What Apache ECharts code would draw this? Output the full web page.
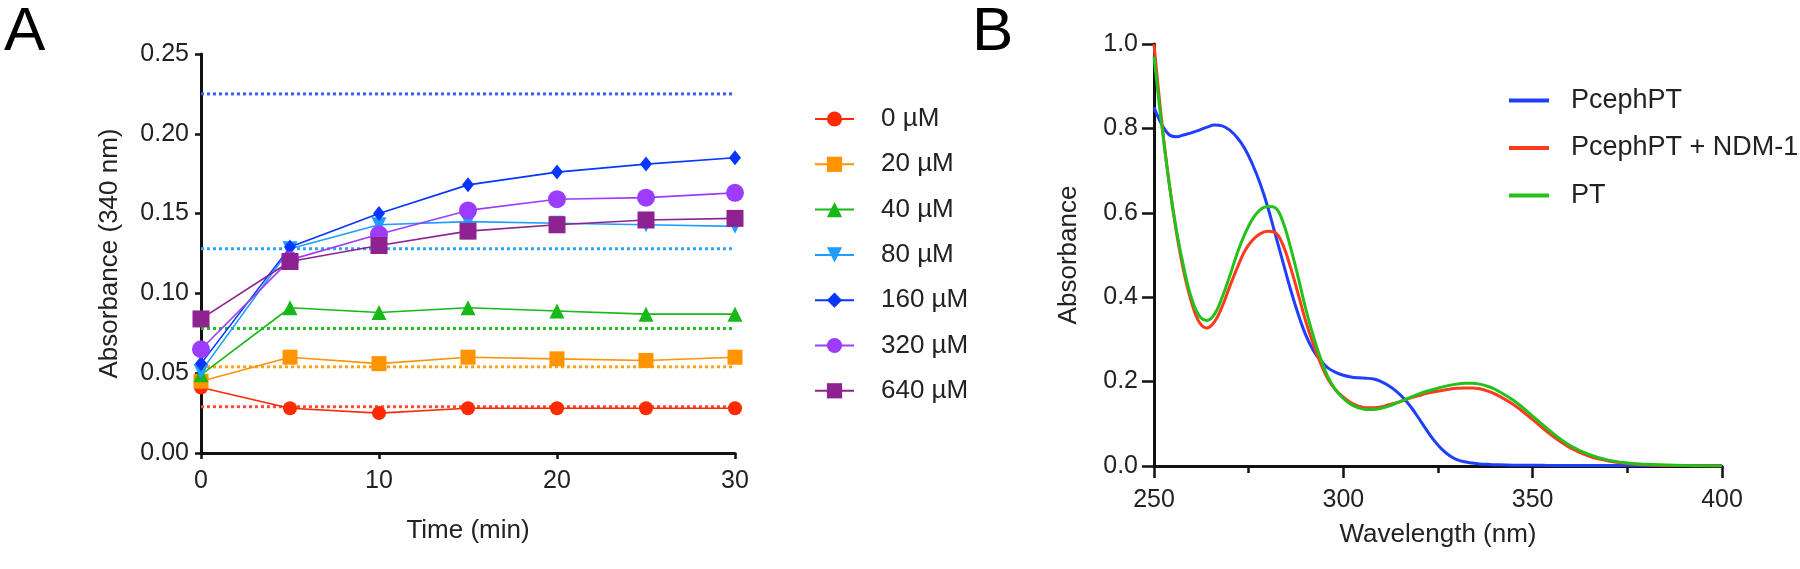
<!DOCTYPE html>
<html>
<head>
<meta charset="utf-8">
<script src="https://cdn.jsdelivr.net/npm/echarts@6/dist/echarts.min.js"></script>
<style>
html,body{margin:0;padding:0;background:#fff;}
#chart{width:1800px;height:569px;}
</style>
</head>
<body>
<div id="chart"></div>
<script>
// ---------- Panel A data ----------
const timeMin = [0, 5, 10, 15, 20, 25, 30];
const concNames = ['0 µM', '20 µM', '40 µM', '80 µM', '160 µM', '320 µM', '640 µM'];
const conc0   = [0.041, 0.028, 0.025, 0.028, 0.028, 0.028, 0.028];
const conc20  = [0.045, 0.060, 0.056, 0.060, 0.059, 0.058, 0.060];
const conc40  = [0.049, 0.091, 0.088, 0.091, 0.089, 0.087, 0.087];
const conc80  = [0.051, 0.128, 0.143, 0.145, 0.144, 0.143, 0.142];
const conc160 = [0.056, 0.129, 0.150, 0.168, 0.176, 0.181, 0.185];
const conc320 = [0.065, 0.121, 0.137, 0.152, 0.159, 0.160, 0.163];
const conc640 = [0.084, 0.120, 0.130, 0.139, 0.143, 0.146, 0.147];
const refLevels = [0.029, 0.054, 0.078, 0.128, 0.225];
const refSpan = [0, 30];
const yTicksA = [0, 0.25, 0.05];
const xTicksA = [0, 30, 10];

// ---------- Panel B data ----------
const wavelength = [250,252,254,256,258,260,262,264,266,268,270,272,274,276,278,280,282,284,286,288,290,292,294,296,298,300,302,304,306,308,310,312,314,316,318,320,322,324,326,328,330,332,334,336,338,340,345,350,355,360,365,370,375,380,390,400];
const pcephPT = [0.85,0.81,0.785,0.78,0.785,0.79,0.796,0.803,0.808,0.806,0.796,0.778,0.752,0.715,0.670,0.615,0.550,0.485,0.420,0.362,0.312,0.275,0.250,0.232,0.222,0.215,0.211,0.209,0.208,0.206,0.200,0.190,0.177,0.160,0.138,0.112,0.085,0.060,0.040,0.025,0.015,0.010,0.007,0.005,0.004,0.003,0.002,0.002,0.001,0.001,0.001,0.001,0.001,0.001,0.001,0.001];
const pcephPTNdm = [1.0,0.82,0.67,0.55,0.455,0.385,0.34,0.327,0.342,0.378,0.425,0.47,0.51,0.535,0.55,0.556,0.553,0.525,0.472,0.41,0.345,0.29,0.243,0.205,0.18,0.163,0.15,0.142,0.138,0.138,0.14,0.145,0.15,0.156,0.162,0.167,0.172,0.176,0.179,0.182,0.184,0.185,0.185,0.183,0.178,0.171,0.145,0.11,0.073,0.043,0.023,0.012,0.006,0.003,0.001,0.0];
const ptOnly = [0.97,0.81,0.67,0.555,0.465,0.395,0.355,0.345,0.36,0.40,0.45,0.505,0.55,0.585,0.607,0.615,0.612,0.58,0.52,0.45,0.375,0.31,0.255,0.21,0.18,0.16,0.146,0.138,0.134,0.134,0.137,0.142,0.149,0.156,0.164,0.171,0.177,0.182,0.187,0.191,0.194,0.196,0.196,0.194,0.189,0.182,0.155,0.118,0.08,0.048,0.027,0.014,0.007,0.004,0.001,0.0];
const specNames = ['PcephPT', 'PcephPT + NDM-1', 'PT'];
const yTicksB = [0, 1, 0.2];
const xTicksB = [250, 400, 50];

// ---------- styles ----------
const FONT = 'Liberation Sans, Arial, sans-serif';
const concColors = ['#ff2a00', '#ff9300', '#17b817', '#1e9fff', '#0636ff', '#9b3cff', '#8e2290'];
const concSymbols = ['circle', 'rect', 'triangle', 'triangle', 'diamond', 'circle', 'rect'];
const concRotate = [0, 0, 0, 180, 0, 0, 0];
const concSizes = [14, 15, 15, 15, [12, 15], 18, 17];
const refColors = ['#ff4a3a', '#ffa020', '#22c022', '#2ea8ff', '#3a5cff'];
const specColors = ['#1f3fff', '#ff3a1e', '#22c21a'];

const concSeriesData = [conc0, conc20, conc40, conc80, conc160, conc320, conc640];
const specSeriesData = [pcephPT, pcephPTNdm, ptOnly];

const series = [];
refLevels.forEach((v, i) => {
  series.push({
    name: 'ref' + i, type: 'line', xAxisIndex: 0, yAxisIndex: 0,
    data: refSpan.map(x => [x, v]), symbol: 'none', silent: true,
    lineStyle: { color: refColors[i], width: 3, type: [3, 3] }, z: 1
  });
});
concSeriesData.forEach((arr, i) => {
  series.push({
    name: concNames[i], type: 'line', xAxisIndex: 0, yAxisIndex: 0,
    data: arr.map((v, k) => [timeMin[k], v]),
    symbol: concSymbols[i], symbolSize: concSizes[i], symbolRotate: concRotate[i],
    itemStyle: { color: concColors[i] },
    lineStyle: { color: concColors[i], width: 1.6 }, z: 3 + i
  });
});
specSeriesData.forEach((arr, i) => {
  series.push({
    name: specNames[i], type: 'line', xAxisIndex: 1, yAxisIndex: 1,
    data: arr.map((v, k) => [wavelength[k], v]),
    symbol: 'none', smooth: 0.4,
    itemStyle: { color: specColors[i] },
    lineStyle: { color: specColors[i], width: 3 }, z: 3 + i
  });
});

const axisLineStyle = { show: true, lineStyle: { color: '#111', width: 3 } };
const labelStyle = { color: '#222', fontSize: 25, fontFamily: FONT };
const nameStyle = { color: '#222', fontSize: 26, fontFamily: FONT };

const option = {
  backgroundColor: '#fff',
  animation: false,
  textStyle: { fontFamily: FONT },
  grid: [
    { left: 201, top: 54, width: 534, height: 399 },
    { left: 1154, top: 44, width: 568, height: 422 }
  ],
  xAxis: [
    {
      type: 'value', gridIndex: 0, min: xTicksA[0], max: xTicksA[1], interval: xTicksA[2],
      name: 'Time (min)', nameLocation: 'middle', nameGap: 65, nameTextStyle: nameStyle,
      axisLine: axisLineStyle, axisTick: { show: true, length: 6, lineStyle: { color: '#111', width: 2.5 } },
      axisLabel: Object.assign({ margin: 16 }, labelStyle), splitLine: { show: false }
    },
    {
      type: 'value', gridIndex: 1, min: xTicksB[0], max: xTicksB[1], interval: xTicksB[2],
      name: 'Wavelength (nm)', nameLocation: 'middle', nameGap: 56, nameTextStyle: nameStyle,
      axisLine: axisLineStyle, axisTick: { show: true, length: 12, lineStyle: { color: '#111', width: 2.5 } },
      minorTick: { show: true, splitNumber: 2, length: 7, lineStyle: { color: '#111', width: 2.5 } },
      axisLabel: Object.assign({ margin: 22 }, labelStyle), splitLine: { show: false }
    }
  ],
  yAxis: [
    {
      type: 'value', gridIndex: 0, min: yTicksA[0], max: yTicksA[1], interval: yTicksA[2],
      name: 'Absorbance (340 nm)', nameLocation: 'middle', nameGap: 78, nameTextStyle: nameStyle,
      axisLine: axisLineStyle, axisTick: { show: true, length: 6, lineStyle: { color: '#111', width: 2.5 } },
      axisLabel: Object.assign({ margin: 12, formatter: v => v.toFixed(2) }, labelStyle), splitLine: { show: false }
    },
    {
      type: 'value', gridIndex: 1, min: yTicksB[0], max: yTicksB[1], interval: yTicksB[2],
      name: 'Absorbance', nameLocation: 'middle', nameGap: 72, nameTextStyle: nameStyle,
      axisLine: axisLineStyle, axisTick: { show: true, length: 12, lineStyle: { color: '#111', width: 2.5 } },
      axisLabel: Object.assign({ margin: 16, formatter: v => v.toFixed(1) }, labelStyle), splitLine: { show: false }
    }
  ],
  legend: [
    {
      data: concNames, orient: 'vertical', left: 809, top: 101,
      itemWidth: 39, itemHeight: 19, itemGap: 19.3,
      textStyle: { color: '#222', fontSize: 26, fontFamily: FONT, padding: [0, 0, 0, 22] }
    },
    {
      data: specNames, orient: 'vertical', left: 1504, top: 82,
      icon: 'rect', itemWidth: 40, itemHeight: 4, itemGap: 20.5,
      textStyle: { color: '#222', fontSize: 27, fontFamily: FONT, padding: [0, 0, 0, 17] }
    }
  ],
  graphic: [
    { type: 'text', left: 4, top: 2, style: { text: 'A', font: '62px ' + FONT, fill: '#000' } },
    { type: 'text', left: 972, top: 2, style: { text: 'B', font: '62px ' + FONT, fill: '#000' } }
  ],
  series: series
};

const chart = echarts.init(document.getElementById('chart'), null, { renderer: 'canvas' });
chart.setOption(option);
</script>
</body>
</html>
